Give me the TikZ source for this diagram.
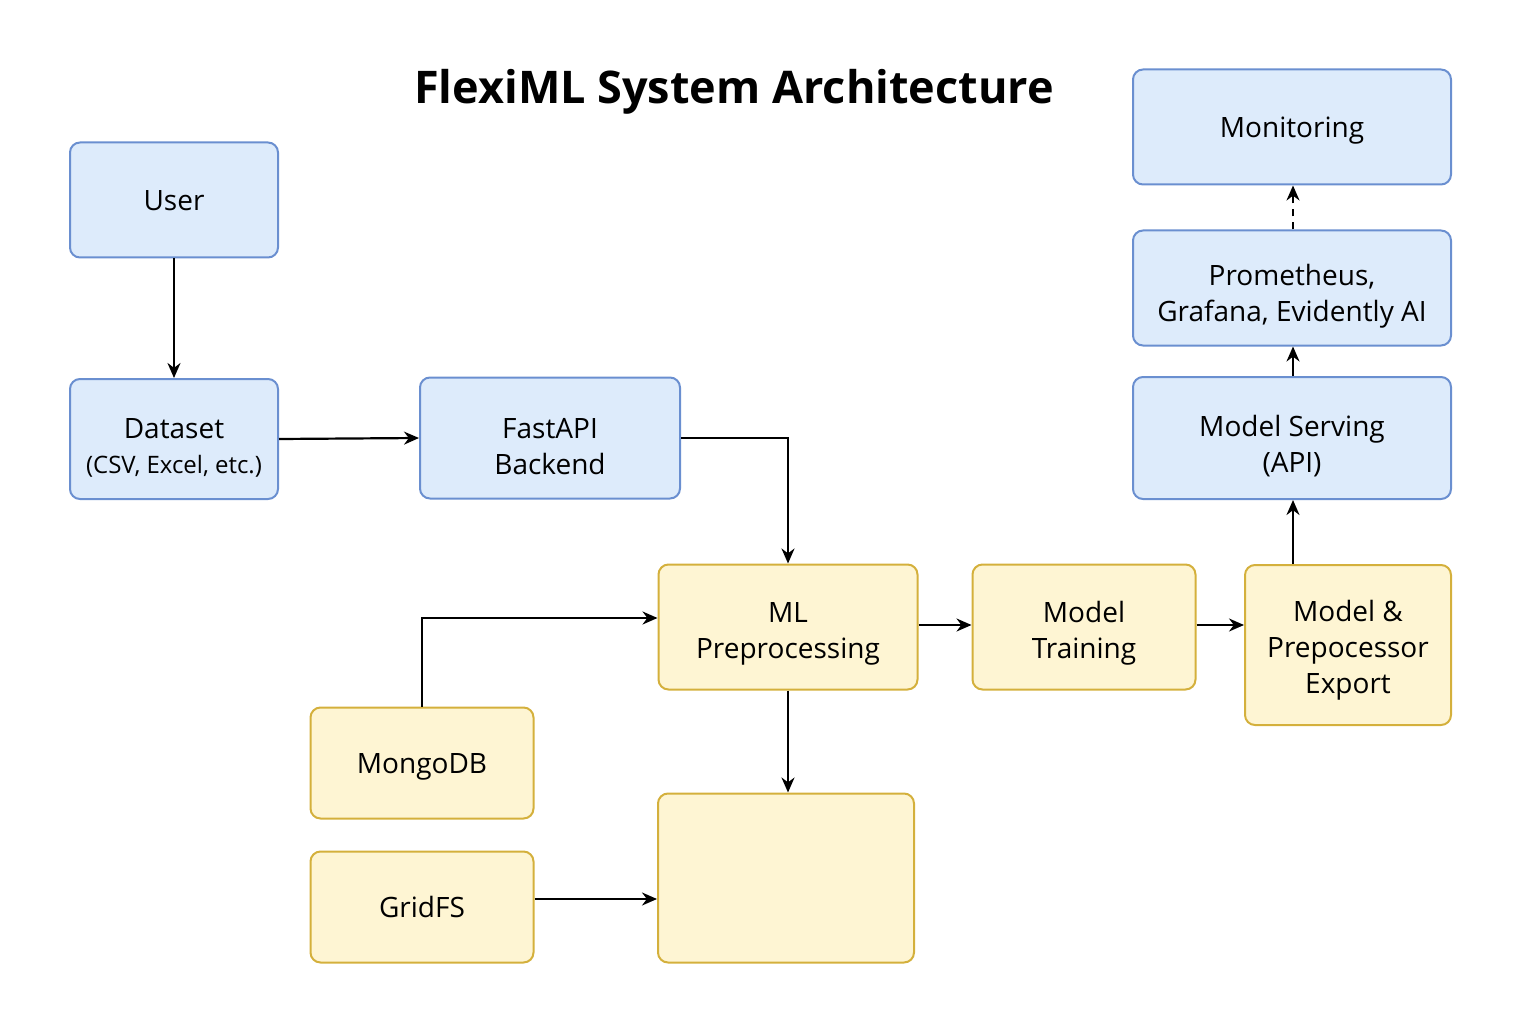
\documentclass[tikz,border=0pt]{standalone}
\usepackage{fontspec}
\setmainfont{Open Sans}
\usetikzlibrary{arrows.meta}
\definecolor{bfill}{HTML}{DDEBFB}
\definecolor{bdraw}{HTML}{6A8FD0}
\definecolor{yfill}{HTML}{FEF5D3}
\definecolor{ydraw}{HTML}{D4B03C}
\newcommand\lowerby[1]{\rule{0pt}{\dimexpr30pt+2\dimexpr#1\relax\relax}}
\tikzset{
  box/.style={rounded corners=10pt, line width=2pt, inner sep=0pt, align=center,
    font=\fontsize{28}{36}\selectfont},
  single/.style={execute at begin node={\rule[-9pt]{0pt}{39pt}},
    execute at end node={\rule[-9pt]{0pt}{9pt}}},
  bluebox/.style={box, fill=bfill, draw=bdraw},
  yelbox/.style={box, fill=yfill, draw=ydraw},
  conn/.style={line width=2.2pt, -{Stealth[length=15pt,width=13pt]}},
}
\begin{document}
\begin{tikzpicture}[x=1pt,y=-1pt]
\useasboundingbox (0,0) rectangle (1536,1024);
\node[font=\fontsize{45}{52}\selectfont\bfseries] (title) at (734,92) {FlexiML System Architecture};
% blue boxes
\node[bluebox, single, minimum width=208pt, minimum height=115pt] (user) at (174,200) {User};
\node[bluebox, minimum width=208pt, minimum height=120pt] (data) at (174,439) {\lowerby{3.5pt}Dataset\\[-1pt]{\fontsize{24}{28}\selectfont (CSV, Excel, etc.)}};
\node[bluebox, minimum width=260pt, minimum height=121pt] (api) at (550,438) {\lowerby{3.5pt}FastAPI\\Backend};
\node[bluebox, minimum width=318pt, minimum height=122pt] (serve) at (1292,438) {\lowerby{3.5pt}Model Serving\\(API)};
\node[bluebox, minimum width=318pt, minimum height=115pt] (prom) at (1292,288) {\lowerby{3.5pt}Prometheus,\\Grafana, Evidently AI};
\node[bluebox, single, minimum width=318pt, minimum height=115pt] (mon) at (1292,127) {Monitoring};
% yellow boxes
\node[yelbox, minimum width=259pt, minimum height=125pt] (ml) at (788,627) {\lowerby{1.5pt}ML\\Preprocessing};
\node[yelbox, minimum width=223pt, minimum height=125pt] (train) at (1084,627) {\lowerby{1.5pt}Model\\Training};
\node[yelbox, minimum width=206pt, minimum height=160pt] (export) at (1348,645) {\lowerby{1pt}Model \&\\Prepocessor\\Export};
\node[yelbox, single, minimum width=223pt, minimum height=111pt] (mongo) at (422,763) {MongoDB};
\node[yelbox, single, minimum width=223pt, minimum height=111pt] (grid) at (422,907) {GridFS};
\node[yelbox, minimum width=256pt, minimum height=169pt] (empty) at (786,878) {};
% connectors
\draw[conn] (user.south) -- (data.north);
\draw[conn] (data.east) -- (api.west);
\draw[conn] (api.east) -| (ml.north);
\coordinate (mlin) at (ml.west |- 0,618);
\draw[conn] (mongo.north) |- (mlin);
\draw[conn] (ml.south) -- (ml.south |- empty.north);
\draw[conn] (ml.east |- 0,625) -- (train.west |- 0,625);
\draw[conn] (train.east |- 0,625) -- (export.west |- 0,625);
\draw[conn] (export.north -| 1293,0) -- (serve.south -| 1293,0);
\draw[conn] (serve.north -| 1293,0) -- (prom.south -| 1293,0);
\draw[conn, dashed, dash pattern=on 7pt off 6pt] (prom.north -| 1293,0) -- (mon.south -| 1293,0);
\draw[conn] (grid.east |- 0,899) -- (empty.west |- 0,899);
\end{tikzpicture}
\end{document}
